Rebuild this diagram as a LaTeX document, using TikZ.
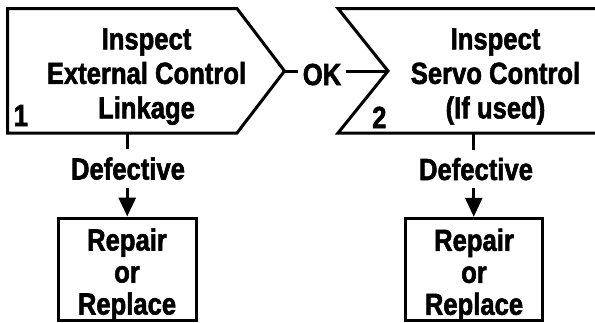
\documentclass[tikz,border=0pt]{standalone}
\usepackage{fontspec}
\newfontfamily\condf{Liberation Sans}[FakeStretch=0.84,BoldFeatures={FakeBold=1.8}]
\usetikzlibrary{arrows.meta}
\begin{document}
\begin{tikzpicture}[x=1pt,y=-1pt,
  shapeline/.style={line width=3pt,line join=miter},
  txt/.style={font=\condf\bfseries\fontsize{30.5}{34.5}\selectfont,align=center,inner sep=0pt},
  smalltxt/.style={font=\condf\bfseries\fontsize{30.5}{32}\selectfont,align=center,inner sep=0pt},
  repbox/.style={draw,line width=3pt,minimum width=137.5pt,minimum height=102.5pt,inner sep=0pt},
  conn/.style={line width=3pt},
  arr/.style={line width=3pt,-{Triangle[width=17pt,length=19pt]}}
]
\useasboundingbox (0,0) rectangle (595,322);
% shape 1
\draw[shapeline] (7.5,8.5) -- (237,8.5) -- (284.5,71) -- (237,133) -- (7.5,133) -- cycle;
\coordinate (t1) at (284.5,71);
\coordinate (c1) at (127,133);
% shape 2
\draw[shapeline] (600,8.5) -- (338,8.5) -- (388,71) -- (338,133) -- (600,133);
\coordinate (n2) at (388,71);
\coordinate (c2) at (473,133);
% texts in shapes
\node[txt,anchor=north] (b1) at (146.5,28.2) {Inspect\\External Control\\Linkage};
\node[txt,anchor=base west] (num1) at (13.5,126) {1};
\node[txt,anchor=base west] (num2) at (372,128) {2};
\node[txt,anchor=north] (b2) at (495.5,28.2) {Inspect\\Servo Control\\(If used)};
% OK
\node[txt,inner xsep=5pt,anchor=base] (ok) at (322,85) {OK};
\draw[conn] (t1) -- (t1 -| ok.west);
\draw[conn] (ok.east |- n2) -- (n2);
% Defective 1
\node[txt,inner ysep=8pt,text depth=0pt,anchor=base] (d1) at (128,179.5) {Defective};
\node[repbox] (r1) at (127.25,269.25) {};
\node[smalltxt,anchor=north] (rt1) at (127,228.2) {Repair\\or\\Replace};
\draw[conn] (c1) -- (c1 |- d1.north);
\draw[arr] (d1.south -| r1) -- (r1.north);
% Defective 2
\node[txt,inner ysep=8pt,text depth=0pt,anchor=base] (d2) at (476,180) {Defective};
\node[repbox] (r2) at (473.75,269.5) {};
\node[smalltxt,anchor=north] (rt2) at (474,228.5) {Repair\\or\\Replace};
\draw[conn] (c2) -- (c2 |- d2.north);
\draw[arr] (d2.south -| r2) -- (r2.north);
\end{tikzpicture}
\end{document}
